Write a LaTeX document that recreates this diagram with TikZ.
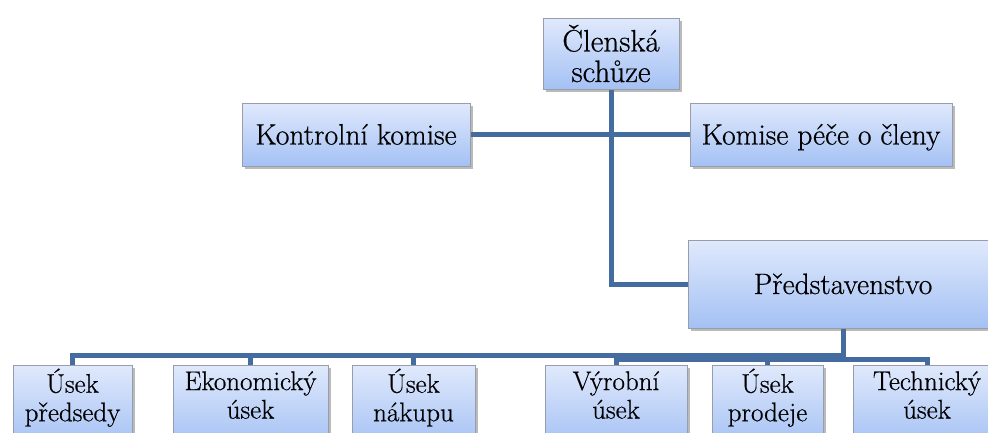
\documentclass[tikz,border=0pt]{standalone}
\usepackage{fontspec}
\newfontfamily\orgfont{Latin Modern Roman}[FakeBold=0.6]
\usetikzlibrary{shadows,backgrounds}

\definecolor{boxtop}{RGB}{224,233,252}
\definecolor{boxbottom}{RGB}{164,193,244}
\definecolor{boxedge}{RGB}{150,158,172}
\definecolor{linkblue}{RGB}{68,108,160}

\tikzset{
  orgbox/.style={
    draw=boxedge, line width=0.8pt,
    top color=boxtop, bottom color=boxbottom,
    drop shadow={shadow xshift=2.5pt, shadow yshift=-3pt, fill=black!60, opacity=0.45},
    inner sep=0pt, align=center
  },
  headbox/.style={orgbox, font=\orgfont\fontsize{31}{30.5}\selectfont},
  midbox/.style={orgbox, font=\orgfont\fontsize{29.5}{30}\selectfont, text height=20pt, text depth=0pt},
  unitbox/.style={orgbox, anchor=north, minimum height=80pt,
    font=\orgfont\fontsize{27}{28.5}\selectfont, text depth=21pt},
  link/.style={draw=linkblue, line width=5pt}
}

\begin{document}
\begin{tikzpicture}[x=1pt,y=-1pt]
  \useasboundingbox (0,0) rectangle (988,432);
  \clip (0,0) rectangle (988,432);

  % top level
  \node[headbox, minimum width=136pt, minimum height=71pt] (clen) at (611,53.5) {Členská\\schůze};

  % commissions
  \node[midbox, minimum width=228pt, minimum height=63pt] (kontrol) at (356,134.5) {Kontrolní komise};
  \node[midbox, minimum width=262pt, minimum height=63pt] (pece) at (821,134.5) {Komise péče o členy};

  % board
  \node[midbox, minimum width=310pt, minimum height=88pt] (predst) at (843,284) {Představenstvo};

  % departments
  \node[unitbox, minimum width=119pt] (u1) at (72.5,365) {Úsek\\předsedy};
  \node[unitbox, minimum width=155pt] (u2) at (250.5,365) {Ekonomický\\úsek};
  \node[unitbox, minimum width=123pt] (u3) at (413.5,365) {Úsek\\nákupu};
  \node[unitbox, minimum width=142pt] (u4) at (616,365) {Výrobní\\úsek};
  \node[unitbox, minimum width=111pt] (u5) at (767.5,365) {Úsek\\prodeje};
  \node[unitbox, minimum width=148pt] (u6) at (927,365) {Technický\\úsek};

  \begin{scope}[on background layer]
    \draw[link] (kontrol.east) -- (pece.west);
    \draw[link] (clen.south) |- (predst.west);
    \draw[link] (predst.south) -- ++(0,27) -| (u1.north);
    \draw[link] (predst.south) -- ++(0,27) -| (u2.north);
    \draw[link] (predst.south) -- ++(0,27) -| (u3.north);
    \draw[link] (predst.south) -- ++(0,31) -| (u4.north);
    \draw[link] (predst.south) -- ++(0,31) -| (u5.north);
    \draw[link] (predst.south) -- ++(0,31) -| (u6.north);
  \end{scope}
\end{tikzpicture}
\end{document}
